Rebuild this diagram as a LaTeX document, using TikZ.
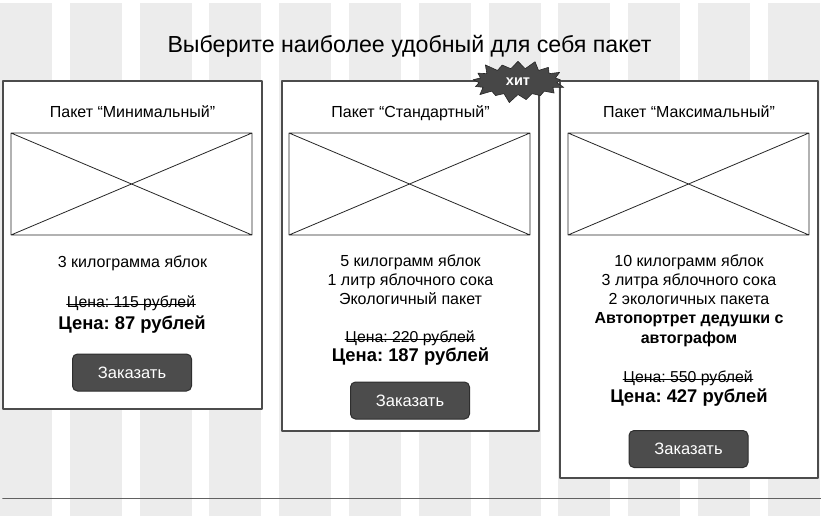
\documentclass[tikz,border=0pt]{standalone}
\usepackage{fontspec}
\setmainfont{Liberation Sans}
\usetikzlibrary{shapes.symbols}
\frenchspacing

\tikzset{
  stripe/.style={fill=gray!15},
  card/.style={draw=black!70, line width=1.1pt, fill=white},
  photo/.style={draw=black!85, line width=0.8pt},
  head/.style={font=\fontsize{16}{19}\selectfont, inner sep=0pt, text height=12pt, text depth=3.5pt},
  txt/.style={font=\fontsize{16}{19}\selectfont, align=center, inner sep=0pt, anchor=north},
  oldprice/.style={font=\fontsize{15.8}{19}\selectfont, inner sep=0pt, text height=12pt, text depth=3.5pt},
  strike/.style={line width=0.9pt},
  newprice/.style={font=\bfseries\fontsize{18.4}{22}\selectfont, inner sep=0pt, text height=13.5pt, text depth=4pt},
  btn/.style={draw=black!82, fill=black!70, line width=1pt, rounded corners=5pt,
    text=white, font=\fontsize{16.5}{19}\selectfont, minimum width=119pt, minimum height=37pt}
}

\begin{document}
\begin{tikzpicture}[line cap=round,line join=round,x=1pt,y=-1pt]
\useasboundingbox (0,0) rectangle (821,516);
% background grid
\foreach \i in {0,...,11}
  \fill[stripe] ({\i*69.8},3) rectangle ({\i*69.8+52},516);
\draw [line width=1.6pt,color=black!62] (3,498.5)-- (821,498.5);
\node [font=\fontsize{23.2}{27}\selectfont] (title) at (409.5,46.5) {Выберите наиболее удобный для себя пакет};
% cards
\draw [card] (3,81) rectangle (262,409);
\draw [card] (282,81) rectangle (539,431);
\draw [card] (560,81) rectangle (818,478);
\draw [photo] (11,133) rectangle (252,235) (11,133)-- (252,235) (11,235)-- (252,133);
\draw [photo] (289,133) rectangle (530,235) (289,133)-- (530,235) (289,235)-- (530,133);
\draw [photo] (568,133) rectangle (809,235) (568,133)-- (809,235) (568,235)-- (809,133);
\node [head] (head1) at (132.5,113) {Пакет “Минимальный”};
\node [head] (head2) at (410.5,113) {Пакет “Стандартный”};
\node [head] (head3) at (689,113) {Пакет “Максимальный”};
% contents
\node [txt] (items1) at (132.5,255.5) {3 килограмма яблок};
\node [txt] (items2) at (410.5,254.5) {5 килограмм яблок\\1 литр яблочного сока\\Экологичный пакет};
\node [txt] (items3) at (689,254.5) {10 килограмм яблок\\3 литра яблочного сока\\2 экологичных пакета\\
  \textbf{Автопортрет дедушки с}\\[0.8pt]\textbf{автографом}};
\node [oldprice] (old1) at (131,303) {Цена: 115 рублей};
\node [oldprice] (old2) at (410,338) {Цена: 220 рублей};
\node [oldprice] (old3) at (688,378) {Цена: 550 рублей};
\draw [strike] ([yshift=-1pt]old1.west)-- ([yshift=-1pt]old1.east);
\draw [strike] ([yshift=-1pt]old2.west)-- ([yshift=-1pt]old2.east);
\draw [strike] ([yshift=-1pt]old3.west)-- ([yshift=-1pt]old3.east);
\node [newprice] (new1) at (132,325) {Цена: 87 рублей};
\node [newprice] (new2) at (410.5,357) {Цена: 187 рублей};
\node [newprice] (new3) at (689,398) {Цена: 427 рублей};
\node [btn] (order1) at (132,372.5) {Заказать};
\node [btn] (order2) at (410,400.5) {Заказать};
\node [btn] (order3) at (688.5,449) {Заказать};
% hit badge
\node [starburst, fill=black!72, draw=black!85, line width=0.6pt, text=white,
  font=\bfseries\fontsize{14.5}{16}\selectfont, starburst points=17,
  starburst point height=10pt, minimum width=98pt, minimum height=46pt,
  inner sep=1pt] (hit) at (518,81.5) {хит};
\end{tikzpicture}
\end{document}
